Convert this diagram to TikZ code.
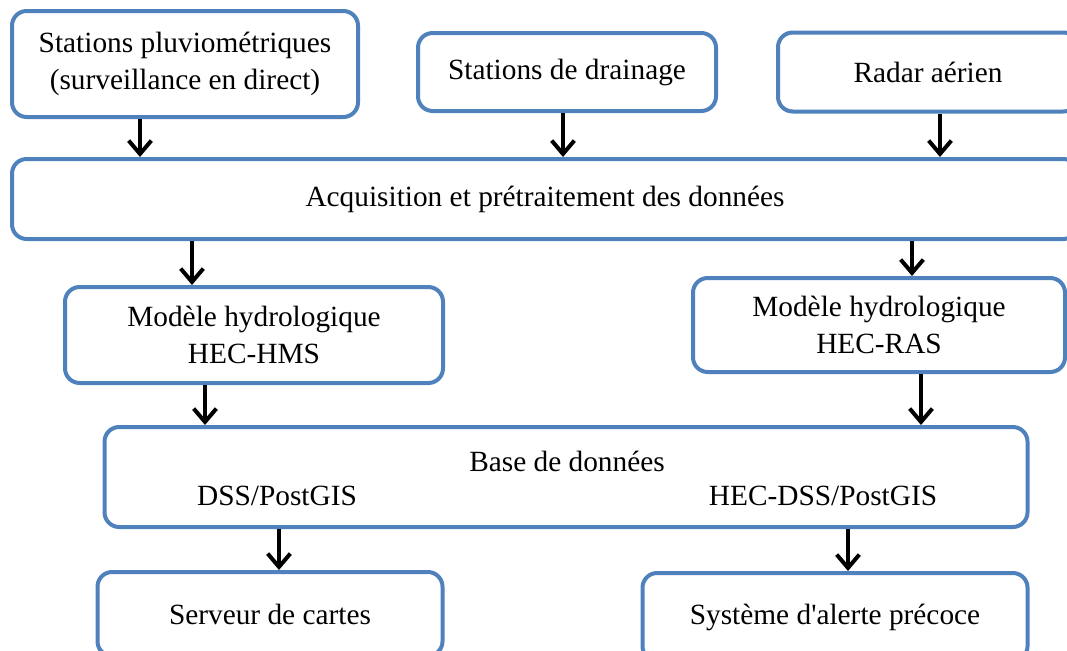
\documentclass[tikz,border=0pt]{standalone}
\usepackage{fontspec}
\setmainfont{Liberation Serif}
\usetikzlibrary{positioning, arrows.meta}
\definecolor{frame}{HTML}{4F81BD}

\begin{document}
\begin{tikzpicture}[x=0.75pt,y=-0.75pt,
  box/.style={draw=frame,line width=3pt,rounded corners=11pt,fill=white,
              align=center,inner sep=0pt,font=\fontsize{22}{28}\selectfont},
  txt/.style={font=\fontsize{22}{28}\selectfont,inner sep=0pt,anchor=base},
  arr/.style={-{Straight Barb[length=10pt,width=17pt]},line width=3pt}]
  \useasboundingbox (0,0) rectangle (1067,650);
  \clip (0,0) rectangle (1067,650);
  % sources
  \node[box,minimum width=259.5pt,minimum height=79.5pt] (pluvio) at (185,64)
    {Stations pluviométriques\\(surveillance en direct)};
  \node[box,minimum width=223.5pt,minimum height=58.5pt] (drain) at (567,72)
    {Stations de drainage};
  \node[box,minimum width=225pt,minimum height=59.25pt] (radar) at (928,72)
    {Radar aérien};
  \node[box,minimum width=799.5pt,minimum height=60pt] (acq) at (545,199)
    {Acquisition et prétraitement des données};
  % models
  \node[box,minimum width=283.5pt,minimum height=72pt] (hms) at (254,335)
    {Modèle hydrologique\\HEC-HMS};
  \node[box,minimum width=279pt,minimum height=70.5pt] (ras) at (879,325)
    {Modèle hydrologique\\HEC-RAS};
  % database
  \node[box,minimum width=692.25pt,minimum height=75pt] (base) at (566,477) {};
  \node[txt] (basett) at (567,471) {Base de données};
  \node[txt] (dss) at (277,505) {DSS/PostGIS};
  \node[txt] (hecdss) at (823,505) {HEC-DSS/PostGIS};
  % outputs
  \node[box,minimum width=258.75pt,minimum height=63pt] (carte) at (270,614)
    {Serveur de cartes};
  \node[box,minimum width=288.75pt,minimum height=66pt] (alerte) at (835,617)
    {Système d\textquotesingle alerte précoce};
  % arrows
  \draw[arr] ([xshift=-33.75pt]pluvio.south) -- ([xshift=-33.75pt]pluvio.south |- acq.north);
  \draw[arr] ([xshift=-3pt]drain.south) -- ([xshift=-3pt]drain.south |- acq.north);
  \draw[arr] ([xshift=9pt]radar.south) -- ([xshift=9pt]radar.south |- acq.north);
  \draw[arr] ([xshift=-46.5pt]hms.north |- acq.south) -- ([xshift=-46.5pt]hms.north);
  \draw[arr] ([xshift=24.75pt]ras.north |- acq.south) -- ([xshift=24.75pt]ras.north);
  \draw[arr] ([xshift=-36.75pt]hms.south) -- ([xshift=-36.75pt]hms.south |- base.north);
  \draw[arr] ([xshift=31.5pt]ras.south) -- ([xshift=31.5pt]ras.south |- base.north);
  \draw[arr] ([xshift=6.75pt]carte.north |- base.south) -- ([xshift=6.75pt]carte.north);
  \draw[arr] ([xshift=9.75pt]alerte.north |- base.south) -- ([xshift=9.75pt]alerte.north);
\end{tikzpicture}
\end{document}
